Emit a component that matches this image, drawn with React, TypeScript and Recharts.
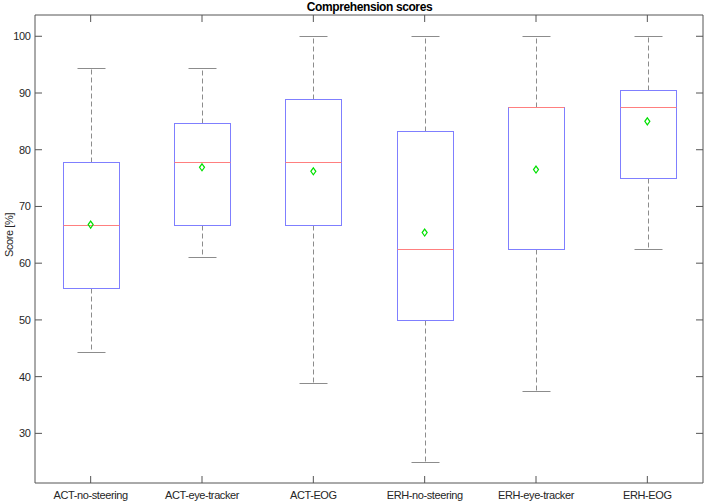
import React from "react";
import { ComposedChart, Bar, Line, XAxis, YAxis } from "recharts";

const categories = [
  "ACT-no-steering",
  "ACT-eye-tracker",
  "ACT-EOG",
  "ERH-no-steering",
  "ERH-eye-tracker",
  "ERH-EOG",
];
const whiskerLow = [44.4, 61.1, 38.9, 25, 37.5, 62.5];
const q1 = [55.6, 66.7, 66.7, 50, 62.5, 75];
const medians = [66.7, 77.8, 77.8, 62.5, 87.5, 87.5];
const q3 = [77.8, 84.7, 88.9, 83.3, 87.5, 90.6];
const whiskerHigh = [94.4, 94.4, 100, 100, 100, 100];
const means = [66.8, 76.9, 76.2, 65.4, 76.5, 85.0];
const yTicks = [30, 40, 50, 60, 70, 80, 90, 100];

const data = categories.map((name, i) => ({
  name,
  low: whiskerLow[i],
  q1: q1[i],
  median: medians[i],
  q3: q3[i],
  high: whiskerHigh[i],
  mean: means[i],
  range: [whiskerLow[i], whiskerHigh[i]],
}));

const FONT = "'Liberation Sans', Arial, sans-serif";
const AXIS = "#555";
const TEXT = "#262626";
const TICK = 7;

// snap to half pixels so 1px lines stay crisp
const px = (v: number) => Math.round(v) + 0.5;

const BoxShape = (props: any) => {
  const { x, y, width, height, payload } = props;
  const lo = payload.low;
  const hi = payload.high;
  const py = (v: number) => px(y + ((hi - v) / (hi - lo)) * height);
  const cx = px(x + width / 2);
  const cap = width / 4;
  const left = px(x);
  const right = px(x + width);
  return (
    <g>
      <line x1={cx} x2={cx} y1={py(payload.q3)} y2={py(hi)} stroke="#8c8c8c" strokeDasharray="5 3" />
      <line x1={cx} x2={cx} y1={py(payload.q1)} y2={py(lo)} stroke="#8c8c8c" strokeDasharray="5 3" />
      <line x1={cx - cap} x2={cx + cap} y1={py(hi)} y2={py(hi)} stroke="#8c8c8c" />
      <line x1={cx - cap} x2={cx + cap} y1={py(lo)} y2={py(lo)} stroke="#8c8c8c" />
      <rect
        x={left}
        y={py(payload.q3)}
        width={right - left}
        height={py(payload.q1) - py(payload.q3)}
        fill="none"
        stroke="#7f7fff"
      />
      <line x1={left} x2={right} y1={py(payload.median)} y2={py(payload.median)} stroke="#ff7f7f" />
    </g>
  );
};

const Diamond = (props: any) => {
  const { cx, cy } = props;
  if (cx == null || cy == null) return null;
  return (
    <polygon
      points={`${cx},${cy - 3.5} ${cx + 2.5},${cy} ${cx},${cy + 3.5} ${cx - 2.5},${cy}`}
      fill="none"
      stroke="#00e000"
      strokeWidth={1.2}
    />
  );
};

const LeftTick = (props: any) => {
  const { x, y, payload } = props;
  return (
    <g>
      <line x1={x} x2={x + TICK} y1={y} y2={y} stroke={AXIS} />
      <text x={x - 4.5} y={y} dy={4} textAnchor="end" fontSize={11} fill={TEXT} fontFamily={FONT} letterSpacing={-0.4}>
        {payload.value}
      </text>
    </g>
  );
};

const RightTick = (props: any) => {
  const { x, y } = props;
  return <line x1={x} x2={x - TICK} y1={y} y2={y} stroke={AXIS} />;
};

const BottomTick = (props: any) => {
  const { x, y, payload } = props;
  return (
    <g>
      <line x1={x} x2={x} y1={y} y2={y - TICK} stroke={AXIS} />
      <text x={x} y={y + 15.7} textAnchor="middle" fontSize={11} fill={TEXT} fontFamily={FONT} letterSpacing={-0.4}>
        {payload.value}
      </text>
    </g>
  );
};

const TopTick = (props: any) => {
  const { x, y } = props;
  return <line x1={x} x2={x} y1={y} y2={y + TICK} stroke={AXIS} />;
};

export default function App() {
  return (
    <div style={{ position: "absolute", left: 0, top: 0, background: "#fff" }}>
      <ComposedChart
        width={708}
        height={503}
        data={data}
        margin={{ top: 14, right: 4, bottom: 0, left: 0 }}
        barCategoryGap="25%"
      >
        <XAxis
          dataKey="name"
          xAxisId={0}
          height={20}
          tickSize={0}
          tickMargin={0}
          tick={<BottomTick />}
          tickLine={false}
          axisLine={{ stroke: AXIS }}
          interval={0}
        />
        <XAxis
          dataKey="name"
          xAxisId="top"
          orientation="top"
          height={1}
          tickSize={0}
          tickMargin={0}
          tick={<TopTick />}
          tickLine={false}
          axisLine={{ stroke: AXIS }}
          interval={0}
        />
        <YAxis
          yAxisId={0}
          type="number"
          domain={[21.25, 103.75]}
          allowDataOverflow
          ticks={yTicks}
          width={35}
          tickSize={0}
          tickMargin={0}
          tick={<LeftTick />}
          tickLine={false}
          axisLine={{ stroke: AXIS }}
          interval={0}
        />
        <YAxis
          yAxisId="right"
          orientation="right"
          type="number"
          domain={[21.25, 103.75]}
          allowDataOverflow
          ticks={yTicks}
          width={1}
          tickSize={0}
          tickMargin={0}
          tick={<RightTick />}
          tickLine={false}
          axisLine={{ stroke: AXIS }}
          interval={0}
        />
        <Bar dataKey="range" shape={<BoxShape />} isAnimationActive={false} />
        <Line
          xAxisId="top"
          yAxisId="right"
          dataKey="mean"
          stroke="none"
          dot={false}
          activeDot={false}
          isAnimationActive={false}
        />
        <Line dataKey="mean" stroke="none" dot={<Diamond />} activeDot={false} isAnimationActive={false} />
        <text x={369.5} y={11} textAnchor="middle" fontSize={12} fontWeight="bold" fill="#000" fontFamily={FONT} letterSpacing={-0.4}>
          Comprehension scores
        </text>
        <text
          x={13}
          y={235}
          transform="rotate(-90 13 235)"
          textAnchor="middle"
          fontSize={11}
          fill={TEXT}
          fontFamily={FONT}
          letterSpacing={-0.4}
        >
          Score [%]
        </text>
      </ComposedChart>
    </div>
  );
}
